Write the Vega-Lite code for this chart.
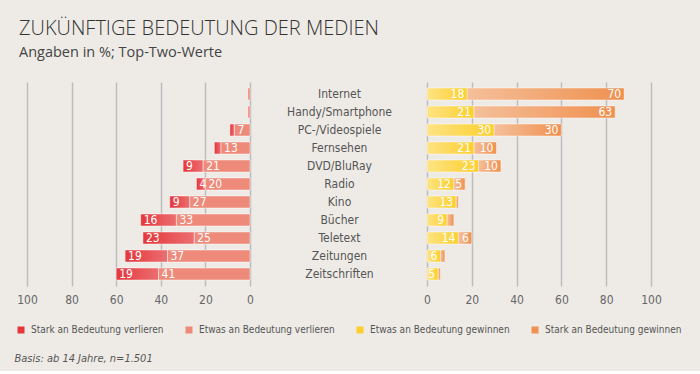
{
  "$schema": "https://vega.github.io/schema/vega-lite/v6.json",
  "background": "#eeebe7",
  "padding": {"left": 14, "top": 18, "right": 42, "bottom": 8},
  "title": {
    "text": "ZUKÜNFTIGE BEDEUTUNG DER MEDIEN",
    "subtitle": "Angaben in %; Top-Two-Werte",
    "anchor": "start",
    "frame": "group",
    "dx": -8,
    "font": "Open Sans",
    "fontSize": 20,
    "fontWeight": 300,
    "color": "#333333",
    "subtitleFont": "Open Sans",
    "subtitleFontSize": 14.5,
    "subtitleColor": "#444444",
    "subtitlePadding": 7,
    "offset": 23
  },
  "datasets": {
    "medien": [
      {"medium": "Internet", "seite": "links", "kategorie": "Stark an Bedeutung verlieren", "wert": 0},
      {"medium": "Internet", "seite": "links", "kategorie": "Etwas an Bedeutung verlieren", "wert": 1},
      {"medium": "Internet", "seite": "rechts", "kategorie": "Etwas an Bedeutung gewinnen", "wert": 18},
      {"medium": "Internet", "seite": "rechts", "kategorie": "Stark an Bedeutung gewinnen", "wert": 70},
      {"medium": "Handy/Smartphone", "seite": "links", "kategorie": "Stark an Bedeutung verlieren", "wert": 0},
      {"medium": "Handy/Smartphone", "seite": "links", "kategorie": "Etwas an Bedeutung verlieren", "wert": 1},
      {"medium": "Handy/Smartphone", "seite": "rechts", "kategorie": "Etwas an Bedeutung gewinnen", "wert": 21},
      {"medium": "Handy/Smartphone", "seite": "rechts", "kategorie": "Stark an Bedeutung gewinnen", "wert": 63},
      {"medium": "PC-/Videospiele", "seite": "links", "kategorie": "Stark an Bedeutung verlieren", "wert": 2},
      {"medium": "PC-/Videospiele", "seite": "links", "kategorie": "Etwas an Bedeutung verlieren", "wert": 7},
      {"medium": "PC-/Videospiele", "seite": "rechts", "kategorie": "Etwas an Bedeutung gewinnen", "wert": 30},
      {"medium": "PC-/Videospiele", "seite": "rechts", "kategorie": "Stark an Bedeutung gewinnen", "wert": 30},
      {"medium": "Fernsehen", "seite": "links", "kategorie": "Stark an Bedeutung verlieren", "wert": 3},
      {"medium": "Fernsehen", "seite": "links", "kategorie": "Etwas an Bedeutung verlieren", "wert": 13},
      {"medium": "Fernsehen", "seite": "rechts", "kategorie": "Etwas an Bedeutung gewinnen", "wert": 21},
      {"medium": "Fernsehen", "seite": "rechts", "kategorie": "Stark an Bedeutung gewinnen", "wert": 10},
      {"medium": "DVD/BluRay", "seite": "links", "kategorie": "Stark an Bedeutung verlieren", "wert": 9},
      {"medium": "DVD/BluRay", "seite": "links", "kategorie": "Etwas an Bedeutung verlieren", "wert": 21},
      {"medium": "DVD/BluRay", "seite": "rechts", "kategorie": "Etwas an Bedeutung gewinnen", "wert": 23},
      {"medium": "DVD/BluRay", "seite": "rechts", "kategorie": "Stark an Bedeutung gewinnen", "wert": 10},
      {"medium": "Radio", "seite": "links", "kategorie": "Stark an Bedeutung verlieren", "wert": 4},
      {"medium": "Radio", "seite": "links", "kategorie": "Etwas an Bedeutung verlieren", "wert": 20},
      {"medium": "Radio", "seite": "rechts", "kategorie": "Etwas an Bedeutung gewinnen", "wert": 12},
      {"medium": "Radio", "seite": "rechts", "kategorie": "Stark an Bedeutung gewinnen", "wert": 5},
      {"medium": "Kino", "seite": "links", "kategorie": "Stark an Bedeutung verlieren", "wert": 9},
      {"medium": "Kino", "seite": "links", "kategorie": "Etwas an Bedeutung verlieren", "wert": 27},
      {"medium": "Kino", "seite": "rechts", "kategorie": "Etwas an Bedeutung gewinnen", "wert": 13},
      {"medium": "Kino", "seite": "rechts", "kategorie": "Stark an Bedeutung gewinnen", "wert": 1},
      {"medium": "Bücher", "seite": "links", "kategorie": "Stark an Bedeutung verlieren", "wert": 16},
      {"medium": "Bücher", "seite": "links", "kategorie": "Etwas an Bedeutung verlieren", "wert": 33},
      {"medium": "Bücher", "seite": "rechts", "kategorie": "Etwas an Bedeutung gewinnen", "wert": 9},
      {"medium": "Bücher", "seite": "rechts", "kategorie": "Stark an Bedeutung gewinnen", "wert": 3},
      {"medium": "Teletext", "seite": "links", "kategorie": "Stark an Bedeutung verlieren", "wert": 23},
      {"medium": "Teletext", "seite": "links", "kategorie": "Etwas an Bedeutung verlieren", "wert": 25},
      {"medium": "Teletext", "seite": "rechts", "kategorie": "Etwas an Bedeutung gewinnen", "wert": 14},
      {"medium": "Teletext", "seite": "rechts", "kategorie": "Stark an Bedeutung gewinnen", "wert": 6},
      {"medium": "Zeitungen", "seite": "links", "kategorie": "Stark an Bedeutung verlieren", "wert": 19},
      {"medium": "Zeitungen", "seite": "links", "kategorie": "Etwas an Bedeutung verlieren", "wert": 37},
      {"medium": "Zeitungen", "seite": "rechts", "kategorie": "Etwas an Bedeutung gewinnen", "wert": 6},
      {"medium": "Zeitungen", "seite": "rechts", "kategorie": "Stark an Bedeutung gewinnen", "wert": 2},
      {"medium": "Zeitschriften", "seite": "links", "kategorie": "Stark an Bedeutung verlieren", "wert": 19},
      {"medium": "Zeitschriften", "seite": "links", "kategorie": "Etwas an Bedeutung verlieren", "wert": 41},
      {"medium": "Zeitschriften", "seite": "rechts", "kategorie": "Etwas an Bedeutung gewinnen", "wert": 5},
      {"medium": "Zeitschriften", "seite": "rechts", "kategorie": "Stark an Bedeutung gewinnen", "wert": 1}
    ]
  },
  "data": {"name": "medien"},
  "config": {
    "view": {"stroke": null},
    "font": "Liberation Sans Narrow, DejaVu Sans Condensed, sans-serif",
    "axisX": {
      "grid": true, "gridColor": "#bcbcbc", "gridWidth": 1.5,
      "domain": false, "ticks": false,
      "values": [0, 20, 40, 60, 80, 100],
      "labelFont": "Liberation Sans Narrow, DejaVu Sans Condensed, sans-serif",
      "labelFontSize": 12, "labelColor": "#666666", "labelPadding": 8,
      "labelFlush": false
    },
    "legend": {
      "orient": "none", "legendX": -11, "legendY": 243,
      "direction": "horizontal", "columns": 4, "columnPadding": 20,
      "symbolType": "square", "symbolSize": 49, "symbolStrokeWidth": 0,
      "labelFont": "Liberation Sans Narrow, DejaVu Sans Condensed, sans-serif",
      "labelFontSize": 10, "labelColor": "#555555", "labelOffset": 5,
      "labelLimit": 300, "padding": 0, "title": null
    }
  },
  "hconcat": [
    {
      "width": 223,
      "height": 204,
      "transform": [
        {"filter": "datum.seite == 'links'"},
        {"stack": "wert", "groupby": ["medium"], "sort": [{"field": "kategorie", "order": "ascending"}], "as": ["w0", "w1"]}
      ],
      "encoding": {
        "y": {
          "field": "medium", "type": "nominal",
          "sort": ["Internet", "Handy/Smartphone", "PC-/Videospiele", "Fernsehen", "DVD/BluRay", "Radio", "Kino", "Bücher", "Teletext", "Zeitungen", "Zeitschriften"],
          "scale": {"paddingInner": 0.333, "paddingOuter": 0.333},
          "axis": null
        },
        "x": {
          "field": "w0", "type": "quantitative",
          "scale": {"domain": [0, 100], "reverse": true, "nice": false},
          "axis": {
            "title": "Basis: ab 14 Jahre, n=1.501",
            "titleX": -13, "titleY": 75, "titleAlign": "left", "titleAnchor": "start",
            "titleBaseline": "alphabetic", "titleFontStyle": "italic", "titleFontWeight": "normal",
            "titleFontSize": 11, "titleColor": "#555555",
            "titleFont": "Liberation Sans Narrow, DejaVu Sans Condensed, sans-serif"
          }
        },
        "x2": {"field": "w1"}
      },
      "layer": [
        {
          "mark": {"type": "bar", "stroke": "#ffffff", "strokeOpacity": 0.45, "strokeWidth": 1},
          "encoding": {
            "color": {
              "field": "kategorie", "type": "nominal",
              "scale": {
                "domain": ["Stark an Bedeutung verlieren", "Etwas an Bedeutung verlieren", "Etwas an Bedeutung gewinnen", "Stark an Bedeutung gewinnen"],
                "range": ["#e4373b", "#ee8a7a", "#fccf2c", "#ef9150"]
              }
            }
          }
        },
        {
          "transform": [{"filter": "datum.kategorie == 'Stark an Bedeutung verlieren'"}],
          "mark": {
            "type": "bar",
            "color": {"gradient": "linear", "x1": 0, "x2": 1, "y1": 0, "y2": 0,
              "stops": [{"offset": 0, "color": "rgba(255,255,255,0)"}, {"offset": 1, "color": "rgba(255,255,255,0.28)"}]}
          }
        },
        {
          "transform": [{"filter": "datum.wert >= 4"}],
          "mark": {"type": "text", "align": "left", "dx": 3, "color": "#ffffff", "fontSize": 12, "baseline": "middle"},
          "encoding": {
            "x": {"field": "w1", "type": "quantitative"},
            "x2": null,
            "text": {"field": "wert", "type": "quantitative"}
          }
        }
      ]
    },
    {
      "width": 224,
      "height": 204,
      "transform": [
        {"filter": "datum.seite == 'rechts'"},
        {"stack": "wert", "groupby": ["medium"], "sort": [{"field": "kategorie", "order": "ascending"}], "as": ["w0", "w1"]}
      ],
      "encoding": {
        "y": {
          "field": "medium", "type": "nominal",
          "sort": ["Internet", "Handy/Smartphone", "PC-/Videospiele", "Fernsehen", "DVD/BluRay", "Radio", "Kino", "Bücher", "Teletext", "Zeitungen", "Zeitschriften"],
          "scale": {"paddingInner": 0.333, "paddingOuter": 0.333},
          "axis": {
            "title": null, "domain": false, "ticks": false, "grid": false,
            "labelAlign": "center", "labelPadding": 88,
            "labelFontSize": 12, "labelColor": "#555555",
            "labelFont": "Liberation Sans Narrow, DejaVu Sans Condensed, sans-serif"
          }
        },
        "x": {
          "field": "w0", "type": "quantitative",
          "scale": {"domain": [0, 100], "nice": false},
          "axis": {"title": null}
        },
        "x2": {"field": "w1"}
      },
      "layer": [
        {
          "mark": {"type": "bar", "stroke": "#ffffff", "strokeOpacity": 0.45, "strokeWidth": 1},
          "encoding": {
            "color": {"field": "kategorie", "type": "nominal"}
          }
        },
        {
          "mark": {
            "type": "bar",
            "color": {"gradient": "linear", "x1": 0, "x2": 1, "y1": 0, "y2": 0,
              "stops": [{"offset": 0, "color": "rgba(255,255,255,0.42)"}, {"offset": 1, "color": "rgba(255,255,255,0)"}]}
          }
        },
        {
          "transform": [{"filter": "datum.wert >= 4"}],
          "mark": {"type": "text", "align": "right", "dx": -3, "color": "#ffffff", "fontSize": 12, "baseline": "middle"},
          "encoding": {
            "x": {"field": "w1", "type": "quantitative"},
            "x2": null,
            "text": {"field": "wert", "type": "quantitative"}
          }
        }
      ]
    }
  ],
  "spacing": 177,
  "bounds": "flush"
}
